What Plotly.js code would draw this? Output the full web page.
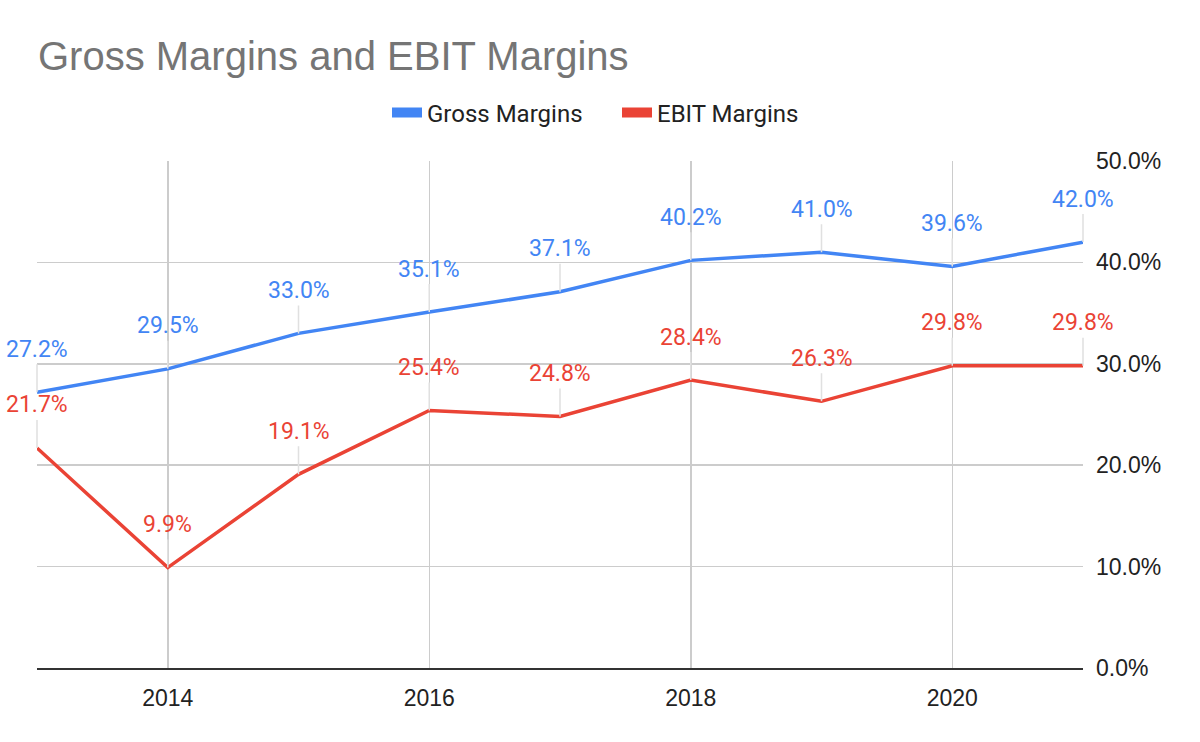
<!DOCTYPE html>
<html>
<head>
<meta charset="utf-8">
<script src="https://cdn.plot.ly/plotly-3.0.1.min.js"></script>
<style>html,body{margin:0;padding:0;background:#fff;}#chart{width:1200px;height:742px;}</style>
</head>
<body>
<div id="chart"></div>
<script>
var years = [2013, 2014, 2015, 2016, 2017, 2018, 2019, 2020, 2021];
var grossMargins = [27.2, 29.5, 33.0, 35.1, 37.1, 40.2, 41.0, 39.6, 42.0];
var ebitMargins = [21.7, 9.9, 19.1, 25.4, 24.8, 28.4, 26.3, 29.8, 29.8];
var seriesNames = ['Gross Margins', 'EBIT Margins'];
var yTickVals = [0, 10, 20, 30, 40, 50];
var xTickVals = [2014, 2016, 2018, 2020];

var BLUE = '#4285F4', RED = '#EA4335';
var series = [
  {name: seriesNames[0], y: grossMargins, color: BLUE},
  {name: seriesNames[1], y: ebitMargins, color: RED}
];

var traces = [];
var annotations = [];
series.forEach(function (s) {
  traces.push({
    x: years, y: s.y, type: 'scatter', mode: 'lines', name: s.name,
    line: {color: s.color, width: 3.5}, showlegend: false, hoverinfo: 'skip'
  });
  s.y.forEach(function (v, i) {
    annotations.push({
      x: years[i], y: v, xref: 'x', yref: 'y',
      text: v.toFixed(1) + '%',
      showarrow: true, ax: 0, ay: -43, arrowhead: 0, arrowwidth: 1.5,
      arrowcolor: '#e0e0e0', standoff: 0,
      font: {family: 'Roboto, Arial, sans-serif', size: 23, color: s.color}
    });
  });
});
// legend-only entries (thick swatches)
series.forEach(function (s) {
  traces.push({
    x: [null], y: [null], type: 'scatter', mode: 'lines', name: s.name,
    line: {color: s.color, width: 10}, showlegend: true, hoverinfo: 'skip'
  });
});

var layout = {
  width: 1200, height: 742,
  paper_bgcolor: '#ffffff', plot_bgcolor: '#ffffff',
  margin: {l: 37, r: 117, t: 161, b: 74},
  title: {
    text: 'Gross Margins and EBIT Margins',
    x: 38 / 1200, xanchor: 'left', xref: 'container',
    y: 1 - 56 / 742, yanchor: 'middle', yref: 'container',
    font: {family: 'Arial, Liberation Sans, sans-serif', size: 40, color: '#757575'}
  },
  showlegend: true,
  legend: {
    orientation: 'h', xref: 'container', yref: 'container',
    x: 387 / 1200, xanchor: 'left', y: 1 - 113 / 742, yanchor: 'middle',
    font: {family: 'Roboto, Arial, sans-serif', size: 24, color: '#222222'},
    itemwidth: 30, traceorder: 'normal', entrywidth: 185, entrywidthmode: 'pixels'
  },
  xaxis: {
    range: [2013, 2021], tickvals: xTickVals, ticktext: xTickVals.map(String),
    showgrid: true, gridcolor: '#cccccc', gridwidth: 1.5,
    showline: true, linecolor: '#333333', linewidth: 2,
    zeroline: false, ticks: '', ticklabelstandoff: 8,
    tickfont: {family: 'Arial, Liberation Sans, sans-serif', size: 23, color: '#222222'},
    fixedrange: true
  },
  yaxis: {
    side: 'right', range: [0, 50], tickvals: yTickVals,
    ticktext: yTickVals.map(function (v) { return v.toFixed(1) + '%'; }),
    showgrid: true, gridcolor: '#cccccc', gridwidth: 1.5,
    zeroline: false, showline: false, ticks: '', ticklabelstandoff: 12,
    tickfont: {family: 'Arial, Liberation Sans, sans-serif', size: 23, color: '#222222'},
    fixedrange: true
  },
  annotations: annotations
};

Plotly.newPlot('chart', traces, layout, {displayModeBar: false, staticPlot: true});
</script>
</body>
</html>
